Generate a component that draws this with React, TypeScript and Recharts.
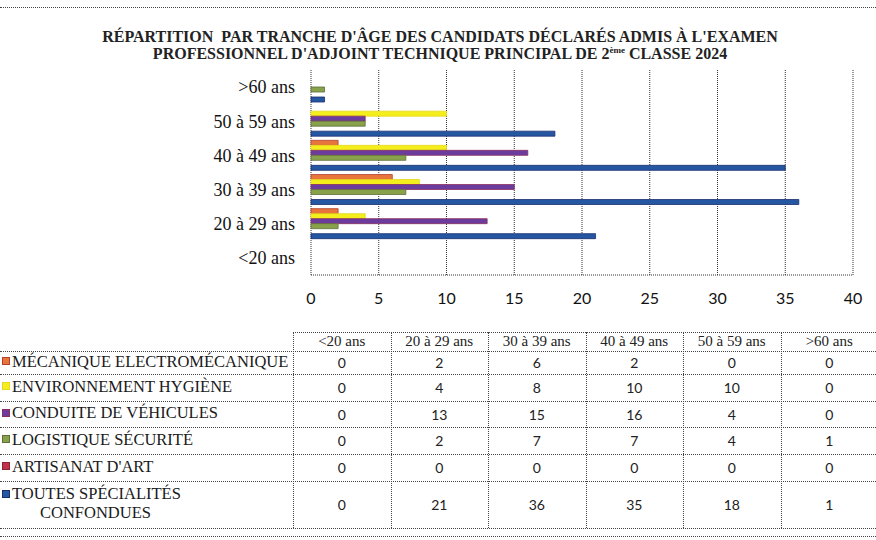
import React from "react";
import { BarChart, Bar, XAxis, YAxis, CartesianGrid } from "recharts";

const categories = ["<20 ans", "20 à 29 ans", "30 à 39 ans", "40 à 49 ans", "50 à 59 ans", ">60 ans"];
const mecanique = [0, 2, 6, 2, 0, 0];
const environnement = [0, 4, 8, 10, 10, 0];
const conduite = [0, 13, 15, 16, 4, 0];
const logistique = [0, 2, 7, 7, 4, 1];
const artisanat = [0, 0, 0, 0, 0, 0];
const toutes = [0, 21, 36, 35, 18, 1];
const xTicks = [0, 5, 10, 15, 20, 25, 30, 35, 40];

const series = [
  { key: "mecanique", label: ["MÉCANIQUE ELECTROMÉCANIQUE"], values: mecanique, fill: "#E8753C", stroke: "#B2402C" },
  { key: "environnement", label: ["ENVIRONNEMENT HYGIÈNE"], values: environnement, fill: "#F4EE1C", stroke: "#E6D81A" },
  { key: "conduite", label: ["CONDUITE DE VÉHICULES"], values: conduite, fill: "#6B3C9E", stroke: "#8A2E5E" },
  { key: "logistique", label: ["LOGISTIQUE SÉCURITÉ"], values: logistique, fill: "#88A24C", stroke: "#5F6E3A" },
  { key: "artisanat", label: ["ARTISANAT D'ART"], values: artisanat, fill: "#C0334A", stroke: "#8E2236" },
  { key: "toutes", label: ["TOUTES SPÉCIALITÉS", "CONFONDUES"], values: toutes, fill: "#2456A2", stroke: "#1A2E6E" },
];

const chartData = categories
  .map((cat, i) => {
    const row: Record<string, string | number> = { cat };
    series.forEach((s) => (row[s.key] = s.values[i]));
    return row;
  })
  .reverse();

const SERIF = "'Liberation Serif', 'DejaVu Serif', serif";
const SANS = "Lato, 'Open Sans', sans-serif";
const LINE = "1px dotted #444";

const tableLeft = 293;
const colW = 97.5;
const headerTop = 332;
const headerH = 19;
const rowHeights = [23, 27, 26, 27, 27, 47];

const DataTable = () => {
  let y = headerTop + headerH;
  const rowTops = rowHeights.map((h) => {
    const t = y;
    y += h;
    return t;
  });
  const bottom = y;
  return (
    <div style={{ position: "absolute", left: 0, top: 0, width: 876, height: 540 }}>
      <div style={{ position: "absolute", left: tableLeft, top: headerTop, width: 876 - tableLeft, borderTop: LINE }} />
      {categories.map((c, j) => (
        <div
          key={c}
          style={{
            position: "absolute",
            left: tableLeft + j * colW,
            top: headerTop,
            width: colW,
            height: headerH,
            lineHeight: `${headerH}px`,
            textAlign: "center",
            fontFamily: SERIF,
            fontSize: 15,
            color: "#222",
          }}
        >
          {c}
        </div>
      ))}
      {[...rowTops, bottom].map((t, i) => (
        <div key={i} style={{ position: "absolute", left: 0, top: t, width: 876, borderTop: LINE }} />
      ))}
      {categories.map((_, j) => (
        <div
          key={j}
          style={{
            position: "absolute",
            left: tableLeft + j * colW,
            top: headerTop,
            height: bottom - headerTop,
            borderLeft: LINE,
          }}
        />
      ))}
      {series.map((s, i) => (
        <React.Fragment key={s.key}>
          <div
            style={{
              position: "absolute",
              left: 2,
              top: rowTops[i],
              height: rowHeights[i],
              width: tableLeft - 2,
              display: "flex",
              alignItems: "center",
              fontFamily: SERIF,
              fontSize: 16.5,
              color: "#1a1a1a",
            }}
          >
            <div style={{ display: "flex", flexDirection: "column", marginTop: -3 }}>
              {s.label.map((l, k) => (
                <div key={k} style={{ display: "flex", alignItems: "center", lineHeight: "19px", paddingLeft: k > 0 ? 38 : 0 }}>
                  {k === 0 && (
                    <span
                      style={{
                        display: "inline-block",
                        width: 8,
                        height: 8,
                        background: s.fill,
                        border: `1px solid ${s.stroke}`,
                        marginRight: 2,
                        boxSizing: "border-box",
                      }}
                    />
                  )}
                  {l}
                </div>
              ))}
            </div>
          </div>
          {s.values.map((v, j) => (
            <div
              key={j}
              style={{
                position: "absolute",
                left: tableLeft + j * colW,
                top: rowTops[i],
                width: colW,
                height: rowHeights[i],
                display: "flex",
                alignItems: "center",
                justifyContent: "center",
                fontFamily: SANS,
                fontSize: 14,
                color: "#222",
              }}
            >
              {v}
            </div>
          ))}
        </React.Fragment>
      ))}
    </div>
  );
};

export default function App() {
  return (
    <div
      style={{
        position: "absolute",
        left: 0,
        top: 0,
        width: 876,
        height: 540,
        background: "#fff",
        overflow: "hidden",
      }}
    >
      <div style={{ position: "absolute", left: 0, top: 7, width: 876, borderTop: LINE }} />
      <div
        style={{
          position: "absolute",
          left: 0,
          top: 28,
          width: 880,
          textAlign: "center",
          fontFamily: SERIF,
          fontWeight: 700,
          fontSize: 16,
          lineHeight: "17px",
          color: "#222",
        }}
      >
        <div>RÉPARTITION&nbsp; PAR TRANCHE D'ÂGE DES CANDIDATS DÉCLARÉS ADMIS À L'EXAMEN</div>
        <div>
          PROFESSIONNEL D'ADJOINT TECHNIQUE PRINCIPAL DE 2<sup style={{ fontSize: 9, lineHeight: 0 }}>ème</sup> CLASSE 2024
        </div>
      </div>
      <div style={{ position: "absolute", left: 0, top: 0 }}>
        <BarChart
          width={876}
          height={320}
          data={chartData}
          layout="vertical"
          margin={{ top: 70, right: 23, bottom: 15, left: 0 }}
          barGap={0}
          barSize={5}
        >
          <CartesianGrid horizontal={false} stroke="#333" strokeDasharray="1 1" />
          <XAxis
            type="number"
            domain={[0, 40]}
            ticks={xTicks}
            interval={0}
            height={30}
            axisLine={{ stroke: "#333", strokeDasharray: "1 1" }}
            tickLine={false}
            tickMargin={12}
            tick={{ fontFamily: SANS, fontSize: 16, fill: "#111" }}
          />
          <YAxis
            type="category"
            dataKey="cat"
            width={311}
            axisLine={false}
            tickLine={false}
            tickMargin={10}
            tick={{ fontFamily: SERIF, fontSize: 18, fill: "#111" }}
          />
          {series.map((s) => (
            <Bar
              key={s.key}
              dataKey={s.key}
              fill={s.fill}
              stroke={s.stroke}
              strokeWidth={0.8}
              isAnimationActive={false}
            />
          ))}
        </BarChart>
      </div>
      <div style={{ position: "absolute", left: 0, top: 536, width: 876, borderTop: LINE }} />
      <DataTable />
    </div>
  );
}
